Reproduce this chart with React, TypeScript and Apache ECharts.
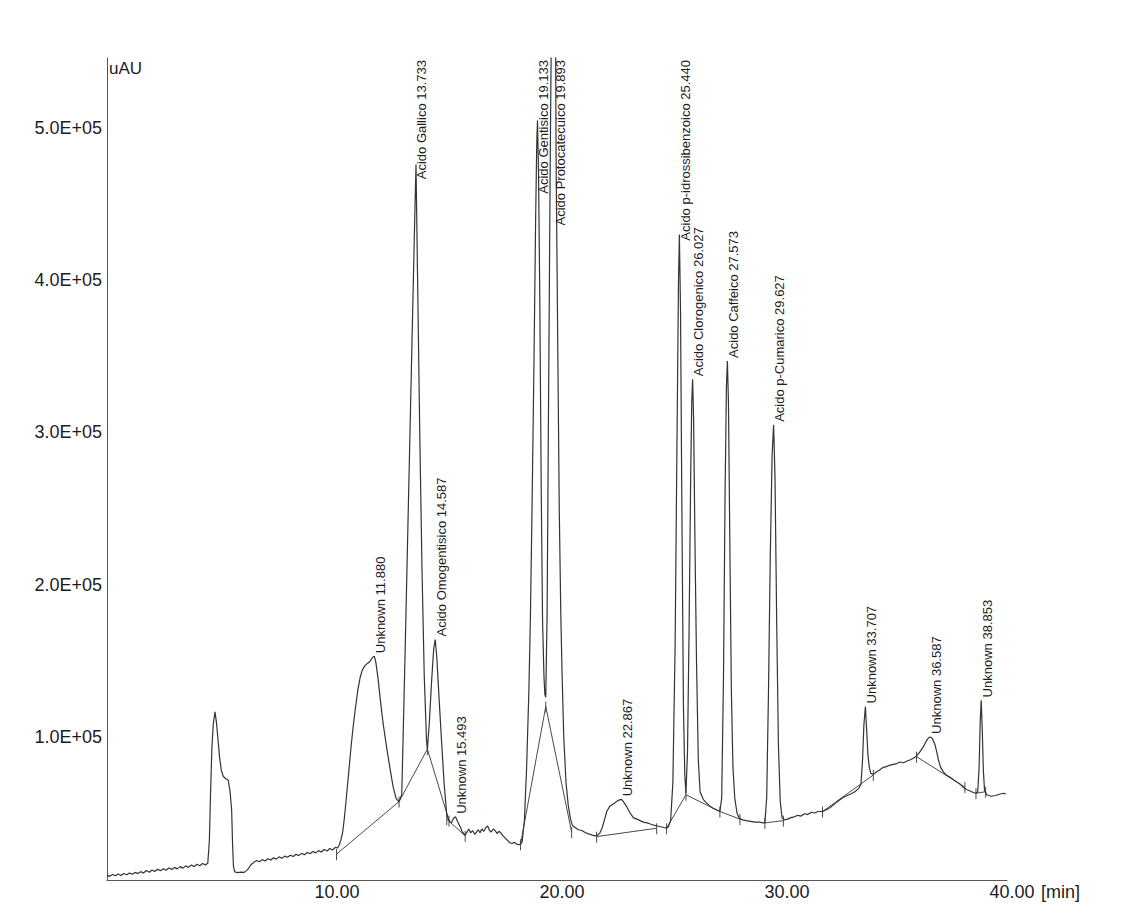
import React, { useEffect, useRef } from 'react';
import * as echarts from 'echarts';

// Chromatogram trace as [retention time (min), response (uAU)] pairs
const TRACE_SOLVENT_FRONT: [number, number][] = [
  [0.0, 9200], [0.12, 8400], [0.25, 9600], [0.38, 8800], [0.5, 9900], [0.62, 9000], [0.75, 10300],
  [0.88, 9400], [1.0, 10600], [1.12, 9800], [1.25, 11000], [1.38, 10200], [1.5, 11500], [1.62, 10600],
  [1.75, 12200], [1.88, 11100], [2.0, 12600], [2.12, 11600], [2.25, 13000], [2.38, 12100], [2.5, 13400],
  [2.62, 12400], [2.75, 13900], [2.88, 12900], [3.0, 14300], [3.12, 13300], [3.25, 14800], [3.38, 13800],
  [3.5, 15300], [3.62, 14300], [3.75, 15900], [3.88, 14800], [4.0, 16300], [4.12, 15400], [4.25, 16900],
  [4.38, 15900], [4.48, 17200],
  [4.55, 32000], [4.6, 62000], [4.66, 92000], [4.72, 108000], [4.8, 116500], [4.86, 110000], [4.93, 99000],
  [5.0, 87000], [5.08, 78000], [5.17, 74000], [5.28, 72500], [5.39, 71500], [5.47, 64000], [5.54, 52000],
  [5.58, 30000], [5.62, 15000], [5.68, 11300], [5.8, 10800], [5.95, 11200], [6.1, 11000], [6.25, 12800],
  [6.4, 16000], [6.52, 17600], [6.65, 18800], [6.78, 18000], [6.9, 19400], [7.02, 18500], [7.15, 20000],
  [7.28, 19100], [7.4, 20600], [7.52, 19700], [7.65, 21200], [7.78, 20300], [7.9, 21700], [8.02, 20900],
  [8.15, 22300], [8.28, 21400], [8.4, 22900], [8.52, 22000], [8.65, 23500], [8.78, 22600], [8.9, 24100],
  [9.02, 23200], [9.15, 24700], [9.28, 23800], [9.4, 25300], [9.52, 24400], [9.65, 26000], [9.78, 25000],
  [9.9, 26700], [10.02, 25700], [10.15, 27400], [10.25, 27000],
];

const TRACE_EARLY_PEAKS: [number, number][] = [
  [10.32, 29000], [10.4, 32500], [10.48, 38000], [10.56, 48000], [10.65, 62000], [10.75, 78000],
  [10.85, 94000], [10.95, 108000], [11.05, 120000], [11.15, 131000], [11.25, 139000], [11.35, 144000],
  [11.45, 146500], [11.55, 148000], [11.65, 149000], [11.75, 151000], [11.82, 152500], [11.88, 153000],
  [11.95, 149000], [12.05, 138000], [12.15, 124000], [12.28, 108000], [12.43, 93000], [12.58, 79000],
  [12.72, 67000], [12.85, 59500], [12.98, 57500],
  [13.1, 62000], [13.25, 156000], [13.4, 256000], [13.55, 356000], [13.67, 436000], [13.733, 476000],
  [13.8, 405000], [13.9, 300000], [14.0, 210000], [14.1, 140000], [14.2, 98000], [14.24, 92000],
  [14.32, 108000], [14.42, 135000], [14.52, 158000], [14.587, 164000], [14.66, 152000], [14.76, 125000],
  [14.87, 97000], [14.98, 70000], [15.1, 49000], [15.2, 45000], [15.3, 43500], [15.4, 46500],
  [15.493, 47500], [15.58, 44500], [15.68, 41500], [15.78, 38000], [15.86, 36500], [15.92, 35500],
  [16.0, 37500], [16.08, 39500], [16.16, 37000], [16.25, 38500], [16.34, 36000], [16.42, 37500],
  [16.5, 39000], [16.58, 37000], [16.66, 39500], [16.75, 38000], [16.84, 40500], [16.92, 41500],
  [17.0, 38500], [17.08, 37500], [17.16, 39500], [17.25, 38500], [17.34, 36500], [17.42, 38000],
  [17.5, 37000], [17.6, 35000], [17.7, 33500], [17.8, 32000], [17.9, 30500], [18.0, 30000],
  [18.1, 30800], [18.2, 29600], [18.3, 29200], [18.38, 29500],
];

const TRACE_MIDDLE_PEAKS: [number, number][] = [
  [18.45, 31000], [18.55, 45000], [18.65, 80000], [18.75, 130000], [18.82, 180000], [18.9, 260000],
  [18.98, 350000], [19.05, 440000], [19.1, 490000], [19.133, 505000], [19.18, 470000], [19.24, 380000],
  [19.3, 260000], [19.36, 175000], [19.42, 140000], [19.46, 128000], [19.5, 126000],
  [19.56, 180000], [19.62, 310000], [19.7, 480000], [19.78, 620000], [19.84, 690000], [19.893, 710000],
  [19.92, 620000], [19.96, 480000], [20.02, 380000], [20.1, 250000], [20.17, 180000], [20.22, 145000],
  [20.3, 100000], [20.4, 70000], [20.5, 55000], [20.6, 46000],
  [20.68, 42000], [20.8, 40500], [20.95, 39000], [21.1, 38500], [21.25, 37200], [21.4, 36300],
  [21.55, 35600], [21.68, 35000], [21.8, 35400], [21.91, 37000], [22.0, 40000], [22.1, 45000],
  [22.21, 51000], [22.35, 54500], [22.5, 56000], [22.65, 57500], [22.75, 58500], [22.867, 59000],
  [22.95, 57500], [23.1, 54000], [23.25, 50000], [23.39, 47000], [23.55, 46000], [23.69, 45000],
  [23.85, 44000], [24.0, 43500], [24.15, 42800], [24.3, 42000], [24.45, 41500], [24.6, 41000],
  [24.75, 40500], [24.87, 40000],
];

const TRACE_LATE_PEAKS: [number, number][] = [
  [24.95, 41000], [25.05, 45000], [25.15, 70000], [25.25, 160000], [25.33, 290000], [25.4, 400000],
  [25.44, 430000], [25.49, 380000], [25.55, 250000], [25.62, 120000], [25.68, 75000], [25.73, 63000],
  [25.8, 90000], [25.87, 170000], [25.94, 270000], [25.99, 320000], [26.027, 335000], [26.07, 310000],
  [26.13, 230000], [26.2, 150000], [26.28, 85000], [26.36, 64000], [26.5, 59000], [26.65, 56500],
  [26.8, 54500], [26.95, 53000], [27.1, 52000], [27.24, 51000],
  [27.32, 60000], [27.4, 140000], [27.47, 260000], [27.53, 330000], [27.573, 347000], [27.62, 320000],
  [27.68, 230000], [27.75, 130000], [27.82, 80000], [27.9, 60000], [28.0, 50000], [28.1, 46500],
  [28.25, 45500], [28.4, 45000], [28.6, 44500], [28.8, 44000], [29.0, 44000], [29.15, 43500],
  [29.24, 43500], [29.32, 60000], [29.4, 130000], [29.48, 220000], [29.56, 285000], [29.627, 305000],
  [29.69, 270000], [29.76, 180000], [29.84, 95000], [29.92, 58000], [30.0, 47000], [30.1, 45500],
  [30.25, 46000], [30.4, 47000], [30.55, 47500], [30.7, 48500], [30.85, 48000], [31.0, 49500],
  [31.15, 49000], [31.3, 50500], [31.45, 50000], [31.6, 51000], [31.8, 51000], [31.95, 52000],
  [32.13, 53500], [32.3, 55500], [32.43, 57000], [32.6, 59000], [32.75, 60500], [32.9, 61500],
  [33.05, 62500], [33.24, 64000], [33.4, 66000], [33.51, 69000], [33.58, 85000], [33.64, 108000],
  [33.707, 120000], [33.76, 105000], [33.82, 88000], [33.88, 80000], [33.95, 76000], [34.06, 75500],
  [34.2, 77000], [34.35, 78500], [34.5, 80000], [34.65, 80500], [34.8, 81500], [34.95, 82000],
  [35.1, 82500], [35.25, 83500], [35.4, 83000], [35.54, 84000], [35.7, 85000], [35.84, 86000],
  [35.98, 87500], [36.12, 90000], [36.28, 93500], [36.42, 97500], [36.52, 99500], [36.587, 100000],
  [36.68, 99000], [36.8, 95000], [36.88, 90000], [36.95, 85000], [37.05, 80000], [37.17, 77000],
  [37.3, 75000], [37.47, 73500], [37.65, 71500], [37.8, 70000], [37.91, 69000], [38.05, 67000],
  [38.2, 65500], [38.36, 64500], [38.5, 63500], [38.62, 63000], [38.7, 64000], [38.76, 80000],
  [38.81, 110000], [38.853, 124000], [38.9, 105000], [38.95, 78000], [39.0, 65000], [39.1, 62000],
  [39.3, 61000], [39.5, 61500], [39.7, 62500], [39.85, 63000], [39.95, 62500],
];

// Identified peaks: names and retention times (min)
const PEAK_NAMES = [
  'Unknown', 'Acido Gallico', 'Acido Omogentisico', 'Unknown', 'Acido Gentisico',
  'Acido Protocatecuico', 'Unknown', 'Acido p-idrossibenzoico', 'Acido Clorogenico',
  'Acido Caffeico', 'Acido p-Cumarico', 'Unknown', 'Unknown', 'Unknown',
];
const PEAK_TIMES = [
  11.88, 13.733, 14.587, 15.493, 19.133, 19.893, 22.867, 25.44, 26.027, 27.573, 29.627, 33.707, 36.587, 38.853,
];

// Integration baselines: [start time, start response, end time, end response]
const BASELINES: [number, number, number, number][] = [
  [10.2, 23000, 12.98, 57500],
  [12.98, 57500, 14.24, 92000],
  [14.24, 92000, 15.2, 45000],
  [15.1, 46000, 15.92, 35000],
  [18.38, 29500, 19.5, 120000],
  [19.5, 120000, 20.65, 37500],
  [21.76, 34500, 24.43, 40000],
  [24.87, 40000, 25.73, 62000],
  [25.73, 62000, 27.24, 51000],
  [27.24, 51000, 28.13, 46000],
  [29.24, 43500, 30.06, 45000],
  [31.8, 51000, 34.06, 75000],
  [35.98, 87000, 38.13, 67000],
  [38.62, 63000, 39.05, 64000],
];

const X_TICKS = [10, 20, 30, 40];
const Y_TICKS = [100000, 200000, 300000, 400000, 500000];
const X_MIN = 0;
const X_MAX = 40;
const Y_MIN = 6000;
const Y_MAX = 546000;

const FONT = '"Liberation Sans", Arial, Helvetica, sans-serif';
const INK = '#1c1c1c';
const TRACE_COLOR = '#333333';
const PEAK_FONT_SIZE = 13;

const TRACE: [number, number][] = [
  ...TRACE_SOLVENT_FRONT,
  ...TRACE_EARLY_PEAKS,
  ...TRACE_MIDDLE_PEAKS,
  ...TRACE_LATE_PEAKS,
];

function sciLabel(v: number): string {
  const [mant, exp] = v.toExponential(1).split('e');
  const e = Number(exp);
  return `${mant}E${e < 0 ? '-' : '+'}${String(Math.abs(e)).padStart(2, '0')}`;
}

function textLength(text: string): number {
  const probe = new echarts.graphic.Text({
    style: { text, fontSize: PEAK_FONT_SIZE, fontFamily: FONT },
  });
  return probe.getBoundingRect().width;
}

function buildOption() {
  const peakLabels = PEAK_TIMES.map((t, i) => {
    const apexPoint = TRACE.find((p) => p[0] === t);
    const apex = apexPoint ? apexPoint[1] : 0;
    const text = `${PEAK_NAMES[i]} ${t.toFixed(3)}`;
    return { value: [t, Math.min(apex, Y_MAX)], text, length: textLength(text) };
  });

  const boundaryPoints: [number, number][] = [];
  BASELINES.forEach((b) => {
    [[b[0], b[1]], [b[2], b[3]]].forEach((p) => {
      if (!boundaryPoints.some((q) => q[0] === p[0] && q[1] === p[1])) {
        boundaryPoints.push([p[0], p[1]]);
      }
    });
  });

  return {
    animation: false,
    backgroundColor: '#ffffff',
    textStyle: { fontFamily: FONT },
    grid: { left: 107, right: 128, top: 58, bottom: 42, outerBoundsMode: 'none' },
    xAxis: {
      type: 'value',
      min: X_MIN,
      max: X_MAX,
      axisLine: { show: true, onZero: false, lineStyle: { color: '#555555', width: 1 } },
      axisTick: { show: false },
      splitLine: { show: false },
      axisLabel: {
        customValues: X_TICKS,
        formatter: (v: number) => v.toFixed(2),
        color: INK,
        fontSize: 18,
        fontFamily: FONT,
        margin: 3,
        padding: [0, 0, 0, 10],
      },
      name: '[min]',
      nameLocation: 'end',
      nameGap: 34,
      nameMoveOverlap: false,
      nameTextStyle: {
        color: INK,
        fontSize: 18,
        fontFamily: FONT,
        align: 'left',
        verticalAlign: 'top',
        padding: [3, 0, 0, 0],
      },
    },
    yAxis: {
      type: 'value',
      min: Y_MIN,
      max: Y_MAX,
      axisLine: { show: true, onZero: false, lineStyle: { color: '#555555', width: 1 } },
      axisTick: { show: false },
      splitLine: { show: false },
      axisLabel: {
        customValues: Y_TICKS,
        formatter: (v: number) => sciLabel(v),
        color: INK,
        fontSize: 18,
        fontFamily: FONT,
        margin: 5,
      },
      name: 'uAU',
      nameLocation: 'end',
      nameGap: -2,
      nameMoveOverlap: false,
      nameTextStyle: {
        color: INK,
        fontSize: 17,
        fontFamily: FONT,
        align: 'left',
        verticalAlign: 'top',
        padding: [0, 0, 0, 2],
      },
    },
    series: [
      {
        type: 'lines',
        coordinateSystem: 'cartesian2d',
        silent: true,
        z: 2,
        lineStyle: { color: '#4a4a4a', width: 1, opacity: 1 },
        data: BASELINES.map((b) => ({ coords: [[b[0], b[1]], [b[2], b[3]]] })),
      },
      {
        type: 'custom',
        silent: true,
        z: 2,
        data: boundaryPoints,
        renderItem: (_params: any, api: any) => {
          const p = api.coord([api.value(0), api.value(1)]);
          return {
            type: 'line',
            shape: { x1: p[0], y1: p[1] - 5, x2: p[0], y2: p[1] + 6 },
            style: { stroke: '#4a4a4a', lineWidth: 1 },
          };
        },
      },
      {
        type: 'line',
        data: TRACE,
        showSymbol: false,
        symbol: 'none',
        clip: true,
        silent: true,
        z: 3,
        lineStyle: { color: TRACE_COLOR, width: 1.2 },
      },
      {
        // Vertical peak annotations: drawn upward from the apex, pushed down
        // so that they end at the top of the plot when they would overflow it.
        type: 'custom',
        silent: true,
        z: 4,
        data: peakLabels.map((l) => l.value),
        renderItem: (params: any, api: any) => {
          const p = api.coord([api.value(0), api.value(1)]);
          const label = peakLabels[params.dataIndex];
          const plotTop = params.coordSys.y;
          const start = p[1] - 3;
          const overflow = start - label.length < plotTop + 2;
          return {
            type: 'text',
            x: p[0] + 6,
            y: overflow ? plotTop + 2 : start,
            rotation: Math.PI / 2,
            style: {
              text: label.text,
              fill: INK,
              fontSize: PEAK_FONT_SIZE,
              fontFamily: FONT,
              align: overflow ? 'right' : 'left',
              verticalAlign: 'middle',
            },
          };
        },
      },
    ],
  };
}

export default function App() {
  const ref = useRef<HTMLDivElement>(null);

  useEffect(() => {
    if (!ref.current) return;
    const chart = echarts.init(ref.current, null, { renderer: 'svg' });
    chart.setOption(buildOption() as any);
    return () => chart.dispose();
  }, []);

  return (
    <div
      ref={ref}
      style={{ position: 'absolute', left: 0, top: 0, width: 1135, height: 922, background: '#ffffff' }}
    />
  );
}
